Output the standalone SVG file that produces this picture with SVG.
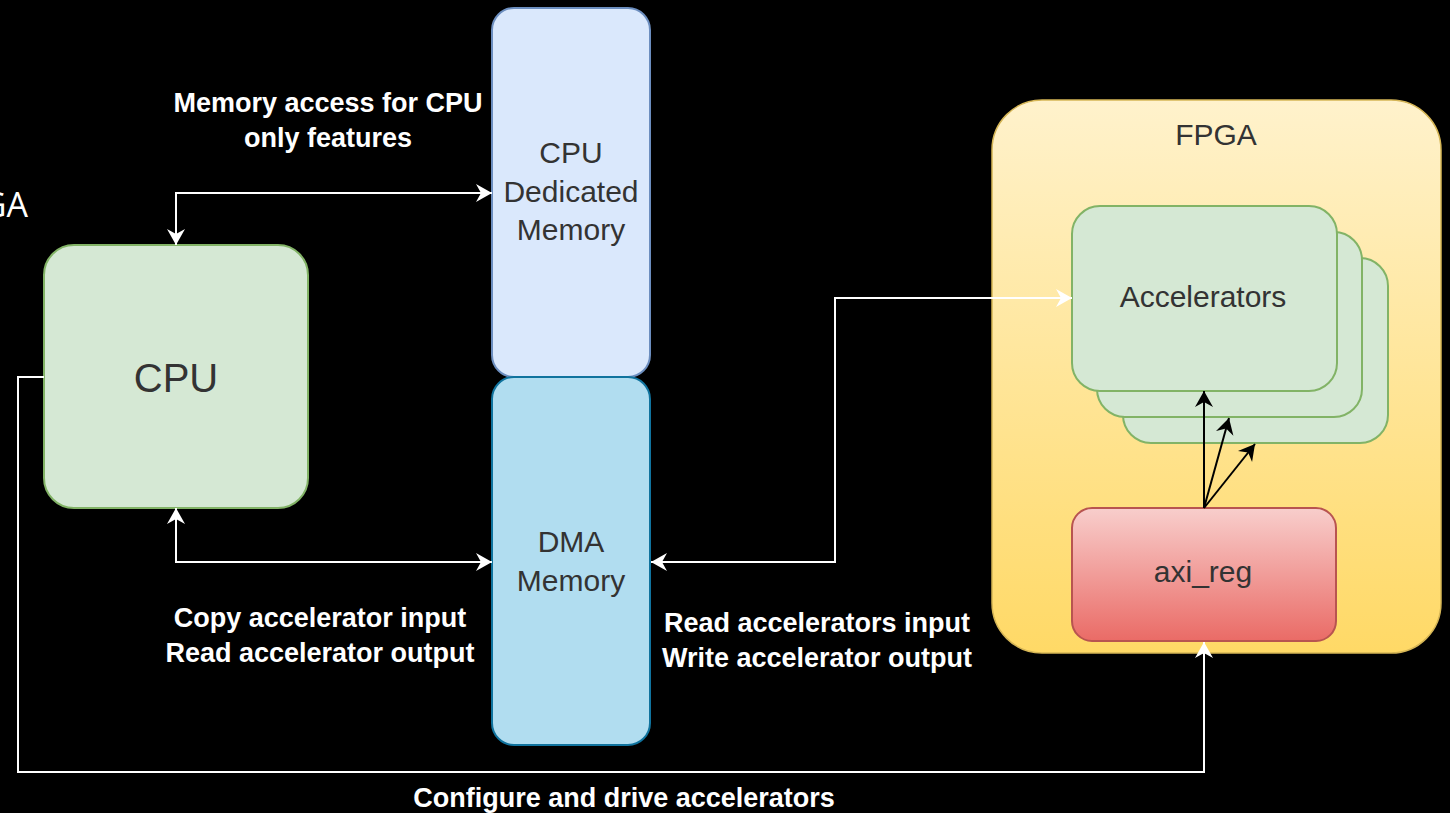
<svg xmlns="http://www.w3.org/2000/svg" width="1450" height="813" viewBox="0 0 1450 813">
<style>
.lbl{font-family:"Liberation Sans",Arial,sans-serif;font-weight:bold;font-size:27px;fill:#ffffff;text-anchor:middle}
.nt{font-family:"Liberation Sans",Arial,sans-serif;font-size:30px;fill:#333333;text-anchor:middle}
.wl{fill:none;stroke:#ffffff;stroke-width:2}
.bl{fill:none;stroke:#000000;stroke-width:2}
</style>
<defs>
<linearGradient id="gFpga" x1="0" y1="0" x2="0" y2="1"><stop offset="0" stop-color="#fff2cc"/><stop offset="1" stop-color="#ffd966"/></linearGradient>
<linearGradient id="gAxi" x1="0" y1="0" x2="0" y2="1"><stop offset="0" stop-color="#f8cecc"/><stop offset="1" stop-color="#ea6b66"/></linearGradient>
<marker id="aw" viewBox="-17 -11 18 22" refX="0" refY="0" markerWidth="18" markerHeight="22" orient="auto-start-reverse" markerUnits="userSpaceOnUse"><path d="M0,0 L-16,-9 L-11,0 L-16,9 Z" fill="#ffffff"/></marker>
<marker id="ab" viewBox="-17 -11 18 22" refX="0" refY="0" markerWidth="18" markerHeight="22" orient="auto" markerUnits="userSpaceOnUse"><path d="M0,0 L-16,-9 L-11,0 L-16,9 Z" fill="#000000"/></marker>
</defs>
<rect x="0" y="0" width="1450" height="813" fill="#000000"/>

<text x="28" y="217" text-anchor="end" style="font-family:'Open Sans','Liberation Sans',sans-serif;font-size:34px;fill:#ffffff">GA</text>

<g id="fpga">
<rect x="992" y="100" width="449" height="553" rx="50" ry="50" fill="url(#gFpga)" stroke="#d6b656" stroke-width="1.5"/>
<text class="nt" x="1216" y="145">FPGA</text>
</g>

<g id="accelerators">
<rect x="1123" y="258" width="265" height="185" rx="28" ry="28" fill="#d5e8d4" stroke="#82b366" stroke-width="2"/>
<rect x="1097" y="232" width="265" height="185" rx="28" ry="28" fill="#d5e8d4" stroke="#82b366" stroke-width="2"/>
<rect x="1072" y="206" width="265" height="185" rx="28" ry="28" fill="#d5e8d4" stroke="#82b366" stroke-width="2"/>
<text class="nt" x="1203" y="307">Accelerators</text>
</g>

<g id="axi_reg">
<rect x="1072" y="508" width="264" height="133" rx="20" ry="20" fill="url(#gAxi)" stroke="#b85450" stroke-width="2"/>
<text class="nt" x="1203" y="582">axi_reg</text>
</g>

<g id="cpu">
<rect x="44" y="245" width="264" height="263" rx="30" ry="30" fill="#d5e8d4" stroke="#82b366" stroke-width="2"/>
<text class="nt" x="176" y="392" style="font-size:40px">CPU</text>
</g>

<g id="cpu_mem">
<rect x="492" y="8" width="158" height="369" rx="22" ry="22" fill="#dae8fc" stroke="#6c8ebf" stroke-width="2"/>
<text class="nt" x="571" y="163">CPU</text>
<text class="nt" x="571" y="202">Dedicated</text>
<text class="nt" x="571" y="240">Memory</text>
</g>

<g id="dma_mem">
<rect x="492" y="377" width="158" height="368" rx="22" ry="22" fill="#b1ddf0" stroke="#10739e" stroke-width="2"/>
<text class="nt" x="571" y="552">DMA</text>
<text class="nt" x="571" y="591">Memory</text>
</g>

<g id="connectors">
<path class="wl" d="M176,245 L176,193 L492,193" marker-start="url(#aw)" marker-end="url(#aw)"/>
<path class="wl" d="M176,508 L176,562 L492,562" marker-start="url(#aw)" marker-end="url(#aw)"/>
<path class="wl" d="M651,562 L835,562 L835,298 L1072,298" marker-start="url(#aw)" marker-end="url(#aw)"/>
<path class="wl" d="M44,377 L18,377 L18,772 L1204,772 L1204,642" marker-end="url(#aw)"/>
<path class="bl" d="M1204,508 L1204,391" marker-end="url(#ab)"/>
<path class="bl" d="M1204,508 L1229,418" marker-end="url(#ab)"/>
<path class="bl" d="M1204,508 L1255,444" marker-end="url(#ab)"/>
</g>

<g id="labels">
<text class="lbl" x="328" y="112">Memory access for CPU</text>
<text class="lbl" x="328" y="147">only features</text>
<text class="lbl" x="320" y="627">Copy accelerator input</text>
<text class="lbl" x="320" y="662">Read accelerator output</text>
<text class="lbl" x="817" y="632">Read accelerators input</text>
<text class="lbl" x="817" y="667">Write accelerator output</text>
<text class="lbl" x="624" y="807">Configure and drive accelerators</text>
</g>
</svg>
